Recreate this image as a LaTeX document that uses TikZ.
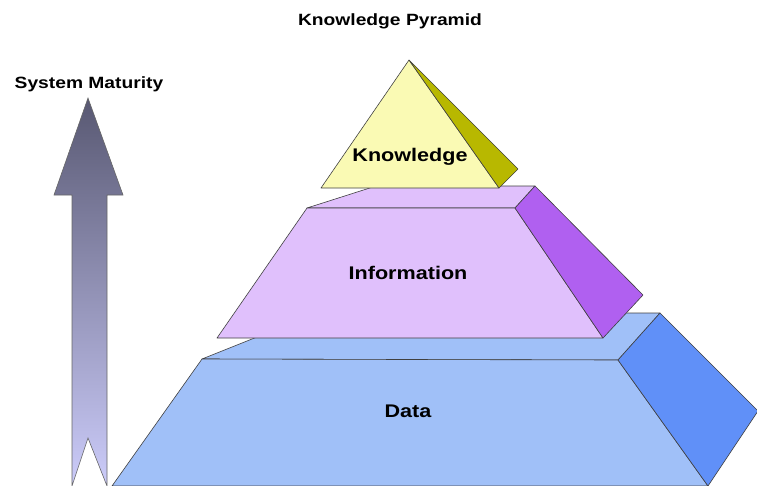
\documentclass[tikz,border=0pt]{standalone}
\usepackage{fontspec}
\newfontfamily\pyrfont{Liberation Sans}[FakeStretch=1.18]
\definecolor{knowfront}{RGB}{250,250,180}
\definecolor{knowside}{RGB}{184,184,0}
\definecolor{infofront}{RGB}{224,192,252}
\definecolor{infoside}{RGB}{176,96,240}
\definecolor{datafront}{RGB}{160,192,248}
\definecolor{dataside}{RGB}{96,144,248}
\definecolor{arrowtop}{RGB}{88,88,114}
\definecolor{arrowbot}{RGB}{204,204,250}
\begin{document}
\begin{tikzpicture}[x=1pt,y=-1pt,
    face/.style={draw=black!75, line width=0.6pt, line join=round},
    levellabel/.style={font=\pyrfont\bfseries\fontsize{18.3}{20}\selectfont},
    headlabel/.style={font=\pyrfont\bfseries\fontsize{16.3}{18}\selectfont}]
    \useasboundingbox (0,0) rectangle (757,485);
    \clip (0,0) rectangle (757,485);
    % maturity arrow
    \shade[top color=arrowtop, bottom color=arrowbot, draw=gray!80!black, line width=0.6pt]
      (88,98) -- (123,195) -- (107,195) -- (107,486) -- (88,438) -- (72,486) -- (72,195) -- (54,195) -- cycle;
    \node[headlabel] (maturity) at (89,84) {System Maturity};
    \node[headlabel] (title) at (390,21) {Knowledge Pyramid};
    % data level
    \filldraw[face, fill=datafront] (202,359) -- (317,313) -- (660,313) -- (618,360) -- cycle;
    \filldraw[face, fill=datafront] (202,359) -- (618,360) -- (708,486) -- (112,486) -- cycle;
    \filldraw[face, fill=dataside] (618,360) -- (660,313) -- (758,411) -- (708,486) -- cycle;
    % information level
    \filldraw[face, fill=infofront] (307,208) -- (376,186) -- (535,186) -- (515,208) -- cycle;
    \filldraw[face, fill=infofront] (307,208) -- (515,208) -- (603,338) -- (217,338) -- cycle;
    \filldraw[face, fill=infoside] (515,208) -- (535,186) -- (643,295) -- (603,338) -- cycle;
    % knowledge level
    \filldraw[face, fill=knowfront] (409,60) -- (499,188) -- (321,188) -- cycle;
    \filldraw[face, fill=knowside] (409,60) -- (518,169) -- (499,188) -- cycle;
    \node[levellabel] (data) at (408,411) {Data};
    \node[levellabel] (info) at (408,273) {Information};
    \node[levellabel] (know) at (410,157) {Knowledge};
\end{tikzpicture}
\end{document}
